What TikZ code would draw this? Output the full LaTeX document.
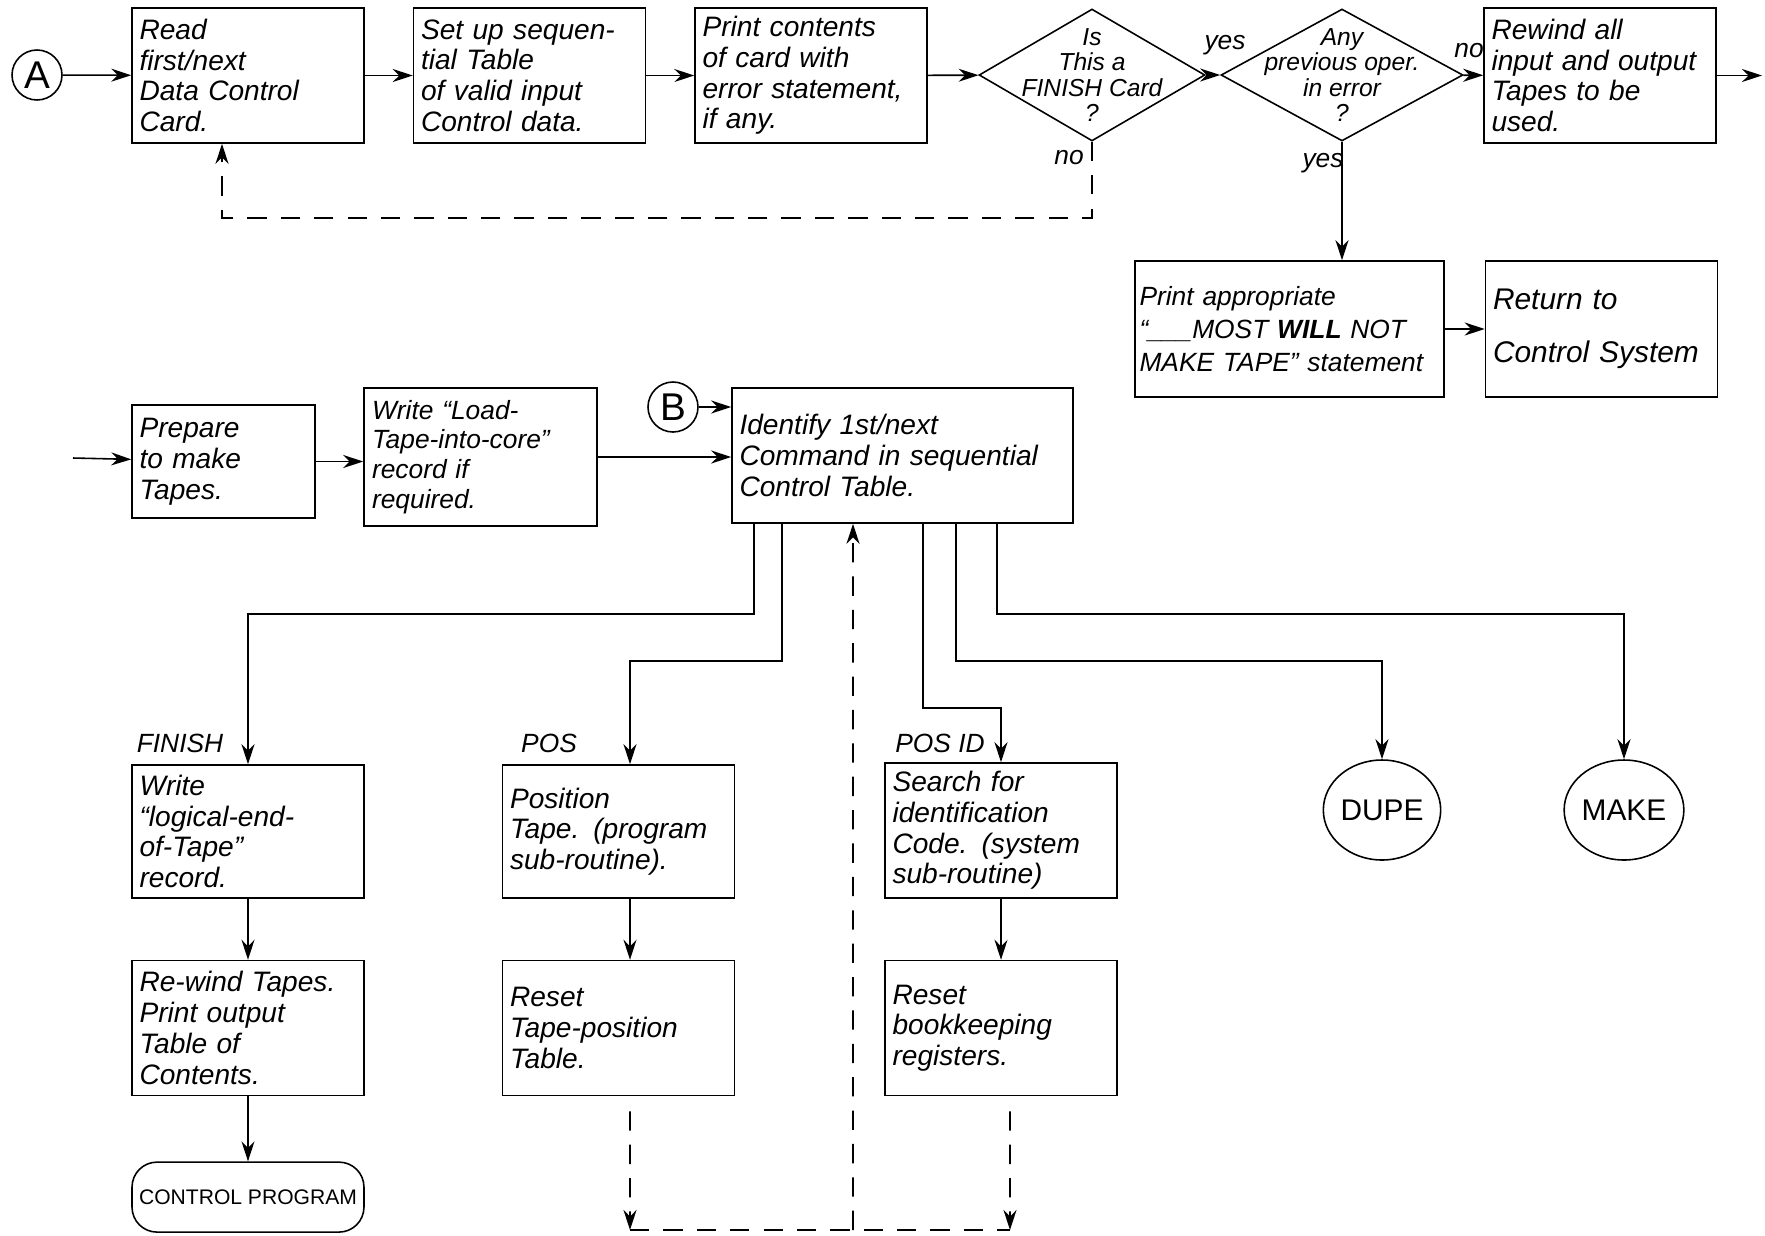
\documentclass[tikz,border=0pt]{standalone}
\usepackage{fontspec}
\setmainfont{Liberation Sans}
\usepackage{tikz}
\usetikzlibrary{positioning,arrows.meta,shapes.geometric}

\begin{document}
\begin{tikzpicture}[x=0.02cm, y=-0.02cm, line width=0.9pt,
    >={Stealth[length=4mm,width=2.6mm]},
    box/.style={draw, minimum width=4.64cm, minimum height=2.7cm, text width=4.34cm, inner sep=0.15cm, align=left, font=\itshape\fontsize{16}{17.5}\selectfont},
    dia/.style={draw, diamond, minimum height=2.64cm, inner sep=0pt},
    dtext/.style={align=center, font=\itshape\fontsize{14}{14.5}\selectfont},
    conn/.style={circle, draw, minimum size=1cm, inner sep=0pt, font=\fontsize{22}{22}\selectfont},
    term/.style={ellipse, draw, minimum width=1.85cm, minimum height=2cm, inner sep=0pt, font=\fontsize{17}{17}\selectfont},
    lbl/.style={font=\itshape\fontsize{15}{15}\selectfont, inner sep=1pt},
    back/.style={dash pattern=on 11pt off 8pt}]
    \useasboundingbox (0,0) rectangle (1765,1235);

    \node[conn] (A) at (37,75) {A};
    \node[box] (rd) at (248,75.5) {Read\\first/next\\Data Control\\Card.};
    \node[box, right=0.96cm of rd] (stp) {Set up sequen-\\tial Table\\of valid input\\Control data.};
    \node[box, right=0.96cm of stp] (prt) {Print contents\\of card with\\error statement,\\if any.};
    \node[dia, minimum width=4.52cm, label={[dtext]center:{Is\\This a\\FINISH Card\\?}}] (d1) at (1092,75) {};
    \node[dia, minimum width=4.84cm, label={[dtext]center:{Any\\previous oper.\\in error\\?}}] (d2) at (1342,75) {};
    \node[box] (rwa) at (1600,75.5) {Rewind all\\input and output\\Tapes to be\\used.};
    \coordinate (out) at (1762,75.5);
    \node[lbl] (y1) at (1225,45) {yes};
    \node[lbl] (n1) at (1469,51) {no};
    \node[lbl] (n2) at (1069,158) {no};
    \node[lbl] (y2) at (1323,163) {yes};

    \node[box, minimum width=6.18cm, minimum height=2.72cm, text width=6cm, inner sep=0.09cm, font=\itshape\fontsize{15}{19}\selectfont] (pa) at (1289.5,329) {Print appropriate\\``\_\_\_MOST \textbf{WILL} NOT\\MAKE TAPE'' statement};
    \node[box, minimum height=2.72cm, font=\itshape\fontsize{17}{30}\selectfont] (ret) at (1601.5,329) {Return to\\Control System};

    \coordinate (in) at (73,458);
    \node[box, minimum width=3.66cm, minimum height=2.26cm, text width=3.36cm] (prep) at (223.5,461.5) {Prepare\\to make\\Tapes.};
    \node[box, minimum width=4.66cm, minimum height=2.76cm, font=\itshape\fontsize{15}{17}\selectfont] (wrt) at (480.5,457) {Write ``Load-\\Tape-into-core''\\record if\\required.};
    \node[box, minimum width=6.82cm, text width=6.52cm] (idt) at (902.5,455.5) {Identify 1st/next\\Command in sequential\\Control Table.};
    \node[conn] (B) at (673,407) {B};

    \node[box, minimum height=2.66cm] (fin) at (248,831.5) {Write\\``logical-end-\\of-Tape''\\record.};
    \node[box, below=1.22cm of fin] (rwt) {Re-wind Tapes.\\Print output\\Table of\\Contents.};
    \node[draw, rounded corners=0.5cm, minimum width=4.64cm, minimum height=1.4cm, font=\fontsize{12}{12}\selectfont, below=1.3cm of rwt] (ctl) {CONTROL PROGRAM};
    \node[box, minimum height=2.66cm] (pos) at (618.5,831.5) {Position\\Tape. (program\\sub-routine).};
    \node[box, below=1.22cm of pos] (rtp) {Reset\\Tape-position\\Table.};
    \node[box] (psid) at (1001,830.5) {Search for\\identification\\Code. (system\\sub-routine)};
    \node[box, below=1.22cm of psid] (rbk) {Reset\\bookkeeping\\registers.};
    \node[term] (dupe) at (1382,810) {DUPE};
    \node[term] (make) at (1624,810) {MAKE};
    \node[lbl] (nf) at (180,743) {FINISH};
    \node[lbl] (np) at (549,743) {POS};
    \node[lbl] (npi) at (940,743) {POS ID};

    \draw[->] (A) -- (rd);
    \draw[->] (rd) -- (stp);
    \draw[->] (stp) -- (prt);
    \draw[->] (prt) -- (d1);
    \draw[->] (d1) -- (d2);
    \draw[->] (d2) -- (rwa);
    \draw[->] (rwa) -- (out);
    \draw[->, back] (d1.south) -- ++(0,76) -| ([xshift=-0.52cm]rd.south);
    \draw[->] (d2.south) -- (d2.south |- pa.north);
    \draw[->] (pa) -- (ret);

    \draw[->] (in) -- (prep);
    \draw[->] (prep.east) -- (prep.east -| wrt.west);
    \draw[->] (wrt) -- (wrt -| idt.west);
    \draw[->] (B) -- (B -| idt.west);

    \draw[->] ([xshift=-2.97cm]idt.south) -- ++(0,90) -| (fin.north);
    \draw[->] ([xshift=-2.41cm]idt.south) -- ++(0,137) -| ([xshift=0.23cm]pos.north);
    \draw[->] ([xshift=0.41cm]idt.south) -- ++(0,184) -| (psid.north);
    \draw[->] ([xshift=1.07cm]idt.south) -- ++(0,137) -| (dupe.north);
    \draw[->] ([xshift=1.89cm]idt.south) -- ++(0,90) -| (make.north);

    \draw[->] (fin.south) -- (fin.south |- rwt.north);
    \draw[->] (rwt) -- (ctl);
    \draw[->] ([xshift=0.23cm]pos.south) -- ([xshift=0.23cm]rtp.north);
    \draw[->] (psid) -- (rbk);

    \coordinate (bl) at (630,1230);
    \coordinate (bm) at (853,1230);
    \coordinate (br) at (1010,1230);
    \draw[->, back] ([xshift=0.23cm,yshift=-0.3cm]rtp.south) -- (bl);
    \draw[->, back] ([xshift=0.18cm,yshift=-0.3cm]rbk.south) -- (br);
    \draw[back] (bl) -- (br);
    \draw[->, back] (bm) -- ([xshift=-0.99cm]idt.south);
  \end{tikzpicture}
\end{document}
